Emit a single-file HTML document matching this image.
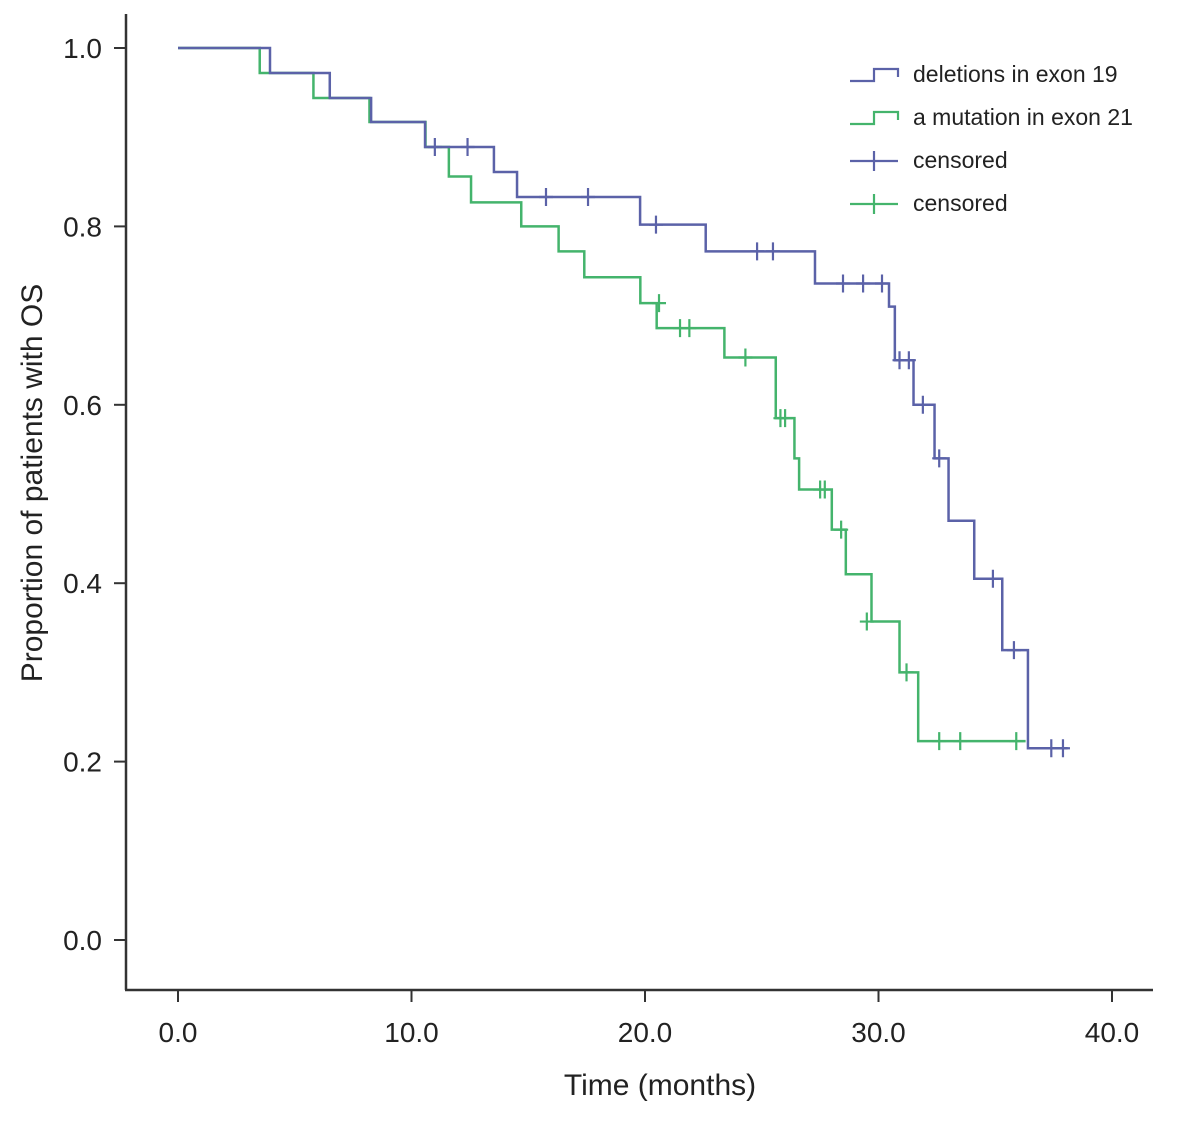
<!DOCTYPE html>
<html><head><meta charset="utf-8"><style>
html,body{margin:0;padding:0;background:#fff;}
svg{display:block;font-family:"Liberation Sans",sans-serif;}
</style></head><body>
<svg id="chart" width="1181" height="1129" viewBox="0 0 1181 1129"></svg>
<script>
const xTicks=[0,10,20,30,40];
const xTickLabels=["0.0","10.0","20.0","30.0","40.0"];
const yTicks=[0,0.2,0.4,0.6,0.8,1.0];
const yTickLabels=["0.0","0.2","0.4","0.6","0.8","1.0"];
const blueTimes=[0,3.94,6.5,8.27,10.58,13.53,14.52,19.79,22.6,27.28,30.45,30.7,31.5,32.4,33.0,34.1,35.3,36.4];
const blueSurv=[1.0,0.972,0.944,0.917,0.889,0.861,0.833,0.802,0.772,0.736,0.71,0.65,0.60,0.54,0.47,0.405,0.325,0.215];
const blueEnd=38.1;
const blueCensT=[11.0,12.4,15.76,17.56,20.47,24.8,25.48,28.48,29.34,30.15,30.9,31.3,31.9,32.6,34.9,35.8,37.4,37.9];
const blueCensS=[0.889,0.889,0.833,0.833,0.802,0.772,0.772,0.736,0.736,0.736,0.65,0.65,0.60,0.54,0.405,0.325,0.215,0.215];
const greenTimes=[0,3.5,5.8,8.2,10.6,11.6,12.55,14.7,16.3,17.4,19.8,20.5,23.4,25.6,26.4,26.6,28.0,28.6,29.7,30.9,31.7];
const greenSurv=[1.0,0.972,0.944,0.917,0.889,0.856,0.827,0.80,0.772,0.743,0.714,0.686,0.653,0.585,0.54,0.505,0.46,0.41,0.357,0.30,0.223];
const greenEnd=36.3;
const greenCensT=[20.6,21.5,21.9,24.3,25.8,26.0,27.5,27.7,28.4,29.5,31.2,32.6,33.5,35.9];
const greenCensS=[0.714,0.686,0.686,0.653,0.585,0.585,0.505,0.505,0.46,0.357,0.30,0.223,0.223,0.223];

const NS="http://www.w3.org/2000/svg";
const svg=document.getElementById('chart');
const X=t=>178+t*23.35;
const Y=v=>940-v*892;
function mk(tag,attrs,parent){const e=document.createElementNS(NS,tag);for(const k in attrs)e.setAttribute(k,attrs[k]);(parent||svg).appendChild(e);return e;}

let ax=mk('line',{x1:126,y1:14,x2:126,y2:990,stroke:'#333','stroke-width':2.5});


ax=mk('line',{x1:125,y1:990,x2:1153,y2:990,stroke:'#333','stroke-width':2.5});


yTicks.forEach((v,i)=>{
  const tk=mk('line',{x1:114,x2:126,y1:Y(v),y2:Y(v),stroke:'#333','stroke-width':2});
  
  
  const t=mk('text',{x:102,y:Y(v)+10,'text-anchor':'end','font-size':28,fill:'#222'});
  t.textContent=yTickLabels[i];
  
  
});
xTicks.forEach((v,i)=>{
  const tk=mk('line',{x1:X(v),x2:X(v),y1:990,y2:1002,stroke:'#333','stroke-width':2});
  
  
  const t=mk('text',{x:X(v),y:1042,'text-anchor':'middle','font-size':28,fill:'#222'});
  t.textContent=xTickLabels[i];
  
  
});
let tt=mk('text',{x:660,y:1095,'text-anchor':'middle','font-size':30,fill:'#222'});
tt.textContent='Time (months)';


tt=mk('text',{x:0,y:0,'text-anchor':'middle','font-size':30,fill:'#222',transform:'translate(42,483) rotate(-90)'});
tt.textContent='Proportion of patients with OS';



function stepPath(ts,ss,end){
  let d='M'+X(ts[0])+','+Y(ss[0]);
  for(let i=1;i<ts.length;i++){d+=' H'+X(ts[i])+' V'+Y(ss[i]);}
  d+=' H'+X(end);return d;
}
function series(ts,ss,end,ct,cs,color,name){
  const p=mk('path',{d:stepPath(ts,ss,end),fill:'none',stroke:color,'stroke-width':2.5});
  
  
  ct.forEach((t,i)=>{
    const c=mk('path',{d:'M'+(X(t)-7)+','+Y(cs[i])+' H'+(X(t)+7)+' M'+X(t)+','+(Y(cs[i])-9)+' V'+(Y(cs[i])+9),stroke:color,'stroke-width':2.2,fill:'none'});
    
    
  });
}
series(greenTimes,greenSurv,greenEnd,greenCensT,greenCensS,'#44b46c','exon21');
series(blueTimes,blueSurv,blueEnd,blueCensT,blueCensS,'#5b62a8','exon19');

const lg=mk('g',{});


const leg=[['deletions in exon 19','#5b62a8',0],['a mutation in exon 21','#44b46c',0],['censored','#5b62a8',1],['censored','#44b46c',1]];
leg.forEach((l,i)=>{
  const y=75+i*43;
  let sym;
  if(l[2]===0){sym=mk('path',{d:'M850,'+(y+6)+' H874 V'+(y-6)+' H898 V'+(y+2),fill:'none',stroke:l[1],'stroke-width':2.2},lg);}
  else{sym=mk('path',{d:'M850,'+y+' H898 M874,'+(y-10)+' V'+(y+10),fill:'none',stroke:l[1],'stroke-width':2.2},lg);}
  
  
  const t=mk('text',{x:913,y:y+7,'font-size':23,fill:'#222'},lg);
  t.textContent=l[0];
  
  
});
</script>
</body></html>
